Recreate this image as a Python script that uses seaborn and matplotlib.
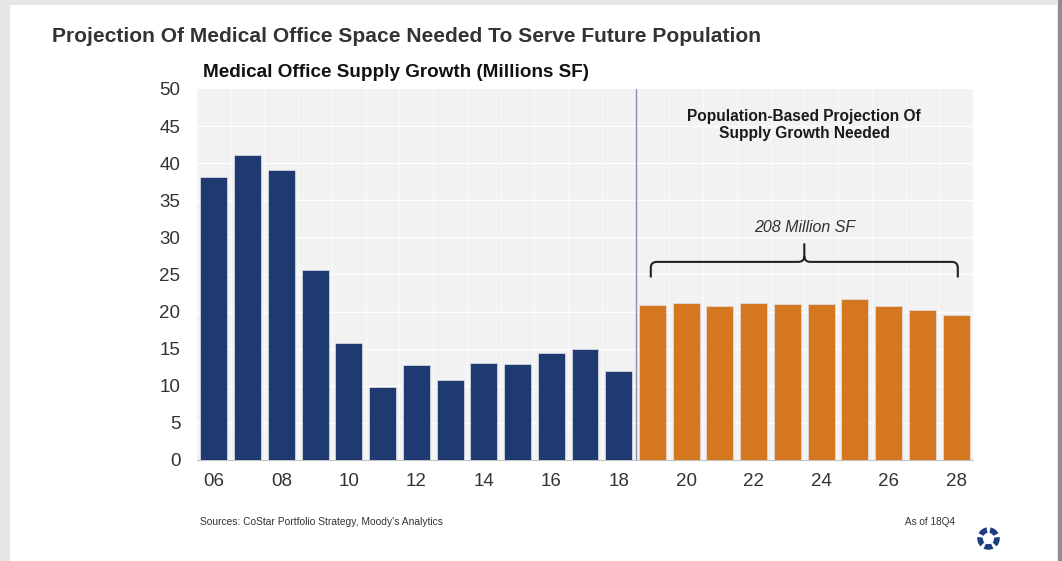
import matplotlib
matplotlib.use("Agg")
import matplotlib.pyplot as plt
from matplotlib.patches import Rectangle, Wedge, PathPatch
from matplotlib.path import Path
import numpy as np
import pandas as pd
import seaborn as sns

# Annual medical office supply growth, millions of square feet
years = ["06", "07", "08", "09", "10", "11", "12", "13", "14", "15", "16", "17", "18",
         "19", "20", "21", "22", "23", "24", "25", "26", "27", "28"]
actual = [38.2, 41.1, 39.1, 25.6, 15.8, 9.9, 12.8, 10.8, 13.1, 12.9, 14.4, 14.9, 12.0]
projected = [20.9, 21.1, 20.7, 21.1, 21.0, 21.0, 21.7, 20.7, 20.2, 19.6]
segments = ["Actual"] * len(actual) + ["Projected"] * len(projected)
shown_labels = ["06", "08", "10", "12", "14", "16", "18", "20", "22", "24", "26", "28"]

NAVY = "#1f3a70"
ORANGE = "#d4771f"
PANEL = "#f2f2f2"

df = pd.DataFrame({"year": years, "growth": actual + projected, "segment": segments})

sns.set_theme(style="white")
plt.rcParams["font.family"] = ["Liberation Sans", "DejaVu Sans"]

fig = plt.figure(figsize=(10.62, 5.61), dpi=100)
fig.patch.set_facecolor("#e6e6e6")
# white slide panel with a darker right edge
fig.add_artist(Rectangle((10 / 1062, 0), 1047 / 1062, 1 - 5 / 561, transform=fig.transFigure,
                         facecolor="white", edgecolor="none", zorder=-10))
fig.add_artist(Rectangle((1058 / 1062, 0), 4 / 1062, 1, transform=fig.transFigure,
                         facecolor="#8d8d8d", edgecolor="none", zorder=-10))

ax = fig.add_axes([197 / 1062, 1 - 460 / 561, 776 / 1062, 371 / 561])
ax.set_facecolor(PANEL)

sns.barplot(data=df, x="year", y="growth", hue="segment", dodge=False, saturation=1,
            palette={"Actual": NAVY, "Projected": ORANGE}, width=0.8,
            edgecolor="#dfe3ea", linewidth=0.5, legend=False, ax=ax, zorder=3)

ax.set_ylim(0, 50)
ax.set_xlim(-0.5, len(years) - 0.5)
ax.set_yticks(np.arange(0, 51, 5))
ax.set_xticks(range(len(years)))
ax.set_xticklabels([y if y in shown_labels else "" for y in years])
ax.set_xticks(np.arange(-0.5, len(years), 1.0), minor=True)
ax.tick_params(axis="y", which="major", length=0, labelsize=13.5, labelcolor="#333333", pad=12)
ax.tick_params(axis="x", which="major", length=0, labelsize=13.5, labelcolor="#333333", pad=9)
ax.tick_params(axis="x", which="minor", length=4, width=0.8, color="#b5b5b5", direction="out")
ax.set_xlabel("")
ax.set_ylabel("")

# light white grid
for v in np.arange(5, 50, 5):
    ax.axhline(v, color="white", lw=0.9, zorder=1)
for b in np.arange(0.5, len(years) - 1, 1.0):
    ax.axvline(b, color="white", lw=0.6, alpha=0.7, zorder=1)

for side in ["top", "right", "left"]:
    ax.spines[side].set_visible(False)
ax.spines["bottom"].set_color("#c4c4c4")
ax.spines["bottom"].set_linewidth(0.8)

# boundary between history and projection
split = len(actual) - 0.5
ax.axvline(split, color="#8a90aa", lw=1.0, zorder=4)

# projection annotation
xl, xr = len(actual) - 0.05, len(years) - 1 + 0.05
xm = (xl + xr) / 2
yb, yh, yp = 24.6, 26.7, 29.2
rx, ry = 0.18, 0.8
verts = [(xl, yb), (xl, yh - ry), (xl, yh), (xl + rx, yh), (xm - rx, yh), (xm, yh), (xm, yh + ry),
         (xm, yp),
         (xm, yh + ry), (xm, yh), (xm + rx, yh), (xr - rx, yh), (xr, yh), (xr, yh - ry), (xr, yb)]
codes = [Path.MOVETO, Path.LINETO, Path.CURVE3, Path.CURVE3, Path.LINETO, Path.CURVE3, Path.CURVE3,
         Path.LINETO,
         Path.MOVETO, Path.CURVE3, Path.CURVE3, Path.LINETO, Path.CURVE3, Path.CURVE3, Path.LINETO]
ax.add_patch(PathPatch(Path(verts, codes), facecolor="none", edgecolor="#222222", lw=1.5,
                       zorder=5, capstyle="butt"))

total = round(sum(projected))
ax.text(xm, 31.4, f"{total} Million SF", ha="center", va="center", fontsize=11.5,
        style="italic", color="#333333", zorder=6)
ax.text(xm, 45.2, "Population-Based Projection Of\nSupply Growth Needed", ha="center",
        va="center", fontsize=11.2, fontweight="bold", color="#1a1a1a", linespacing=1.15, zorder=6)

# headings
fig.text(52 / 1062, 1 - 36 / 561, "Projection Of Medical Office Space Needed To Serve Future Population",
         ha="left", va="center", fontsize=15.1, fontweight="bold", color="#333333")
fig.text(203 / 1062, 1 - 72 / 561, "Medical Office Supply Growth (Millions SF)",
         ha="left", va="center", fontsize=13.6, fontweight="bold", color="#111111")

# footer
fig.text(200 / 1062, 1 - 522 / 561, "Sources: CoStar Portfolio Strategy, Moody's Analytics",
         ha="left", va="center", fontsize=7.4, color="#333333")
fig.text(955 / 1062, 1 - 522 / 561, "As of 18Q4", ha="right", va="center", fontsize=7.2,
         color="#333333")

# ring mark in the corner
lax = fig.add_axes([975 / 1062, 1 - 552 / 561, 27 / 1062, 27 / 561])
lax.set_xlim(-1.2, 1.2)
lax.set_ylim(-1.2, 1.2)
lax.set_aspect("equal")
lax.axis("off")
for k in range(5):
    start = 90 + k * 72 + 10
    lax.add_patch(Wedge((0, 0), 1.0, start, start + 52, width=0.5, facecolor="#1e3c82",
                        edgecolor="none"))

fig.savefig("out.png", dpi=100, facecolor=fig.get_facecolor())
